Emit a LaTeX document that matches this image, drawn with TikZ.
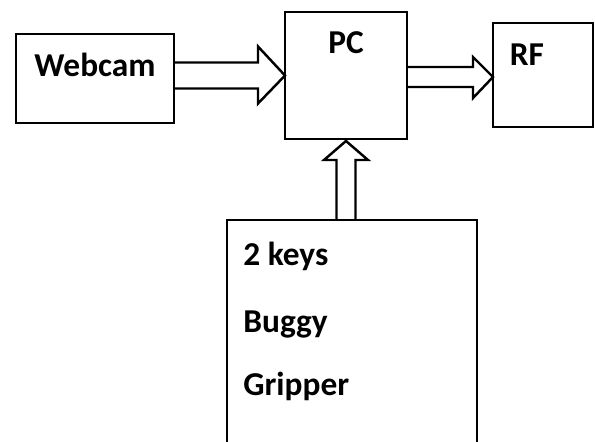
\documentclass[tikz,border=0pt]{standalone}
\usepackage{fontspec}
\setmainfont{Carlito}
\usetikzlibrary{calc}
\tikzset{
  box/.style={draw, line width=1.6pt, inner sep=0pt, outer sep=0pt},
  lbl/.style={inner sep=0pt, font=\fontsize{19}{23}\selectfont\bfseries},
  blockarrow/.style={draw, line width=1.4pt, line join=miter}
}
\begin{document}
\begin{tikzpicture}[x=0.02cm, y=-0.02cm]
        % Page frame
        \clip (0,0) rectangle (595,441);
        % Blocks
        \node[box, minimum width=3.16cm, minimum height=1.78cm] (webcam) at (95,78.5) {};
        \node[box, minimum width=2.44cm, minimum height=2.54cm] (pc) at (346,75.5) {};
        \node[box, minimum width=2.0cm, minimum height=2.08cm] (rf) at (543,75) {};
        \node[box, minimum width=5.0cm, minimum height=5.0cm] (keys) at (352,345) {};
        % Block texts
        \node[lbl, anchor=base] (webcamtxt) at ($(webcam.north)+(0,42)$) {Webcam};
        \node[lbl, anchor=base] (pctxt) at ($(pc.north)+(0,41)$) {PC};
        \node[lbl, anchor=base] (rftxt) at ($(rf.north)+(-16,42)$) {RF};
        \node[lbl, anchor=base west] (keystxt) at ($(keys.north west)+(16,45)$) {2 keys};
        \node[lbl, anchor=base west] (buggytxt) at ($(keys.north west)+(16,112)$) {Buggy};
        \node[lbl, anchor=base west] (grippertxt) at ($(keys.north west)+(16,175)$) {Gripper};
        % Webcam -> PC
        \draw[blockarrow] ($(webcam.east|-pc.west)+(0,-13)$) -- ($(pc.west)+(-27,-13)$)
            -- ($(pc.west)+(-27,-29)$) -- (pc.west) -- ($(pc.west)+(-27,28)$)
            -- ($(pc.west)+(-27,13)$) -- ($(webcam.east|-pc.west)+(0,13)$);
        % PC -> RF
        \coordinate (rfin) at ($(rf.west)+(0,2)$);
        \draw[blockarrow] ($(pc.east|-rfin)+(0,-10)$) -- ($(rfin)+(-20,-10)$)
            -- ($(rfin)+(-20,-20)$) -- (rfin) -- ($(rfin)+(-20,21)$)
            -- ($(rfin)+(-20,10)$) -- ($(pc.east|-rfin)+(0,10)$);
        % keys -> PC
        \draw[blockarrow] ($(keys.north-|pc.south)+(-9.5,0)$) -- ($(pc.south)+(-9.5,21)$)
            -- ($(pc.south)+(-22,21)$) -- ($(pc.south)+(0,2)$) -- ($(pc.south)+(22,21)$)
            -- ($(pc.south)+(9.5,21)$) -- ($(keys.north-|pc.south)+(9.5,0)$);
\end{tikzpicture}
\end{document}
